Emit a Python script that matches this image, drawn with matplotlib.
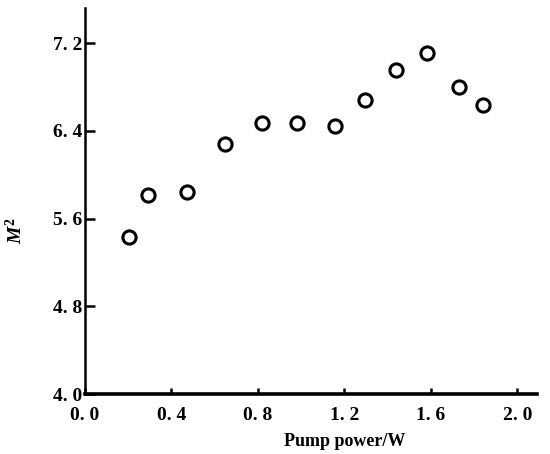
import matplotlib.pyplot as plt
from matplotlib.ticker import FuncFormatter

pump_power = [0.205, 0.29, 0.472, 0.65, 0.819, 0.979, 1.156, 1.297, 1.437, 1.581, 1.728, 1.843]
m_squared = [5.43, 5.82, 5.84, 6.28, 6.47, 6.47, 6.445, 6.68, 6.96, 7.11, 6.80, 6.64]
x_ticks = [0.0, 0.4, 0.8, 1.2, 1.6, 2.0]
y_ticks = [4.0, 4.8, 5.6, 6.4, 7.2]

FONT = 'Liberation Serif'
plt.rcParams['mathtext.fontset'] = 'custom'
plt.rcParams['mathtext.it'] = 'Liberation Serif:italic:bold'
plt.rcParams['mathtext.rm'] = 'Liberation Serif:bold'


def spaced(v, _pos):
    return f'{v:.1f}'.replace('.', '. ')


fig = plt.figure(figsize=(5.5, 4.54), dpi=100)
ax = fig.add_axes([0.1545, 0.132, 0.8215, 0.85])

ax.plot(pump_power, m_squared, linestyle='none', marker='o', markersize=9.5,
        markerfacecolor='white', markeredgecolor='black', markeredgewidth=2.2)

ax.set_xlim(0.0, 2.09)
ax.set_ylim(4.0, 7.52)
ax.set_xticks(x_ticks)
ax.set_yticks(y_ticks)
ax.xaxis.set_major_formatter(FuncFormatter(spaced))
ax.yaxis.set_major_formatter(FuncFormatter(spaced))

for side in ('top', 'right'):
    ax.spines[side].set_visible(False)
ax.spines['bottom'].set_linewidth(2.6)
ax.spines['left'].set_linewidth(1.8)

ax.tick_params(axis='x', direction='in', length=4, width=1.8, pad=9)
ax.tick_params(axis='y', direction='in', length=7, width=1.8, pad=2)
for lab in ax.get_xticklabels() + ax.get_yticklabels():
    lab.set_fontfamily(FONT)
    lab.set_fontweight('bold')
    lab.set_fontsize(14)

ax.set_xlabel('Pump power/W', fontfamily=FONT, fontweight='bold', fontsize=13)
ax.xaxis.set_label_coords(0.575, -0.1)
ax.set_ylabel(r'$M^{\mathrm{2}}$', fontsize=14)
ax.yaxis.set_label_coords(-0.13, 0.425)

fig.savefig('out.png', dpi=100)
